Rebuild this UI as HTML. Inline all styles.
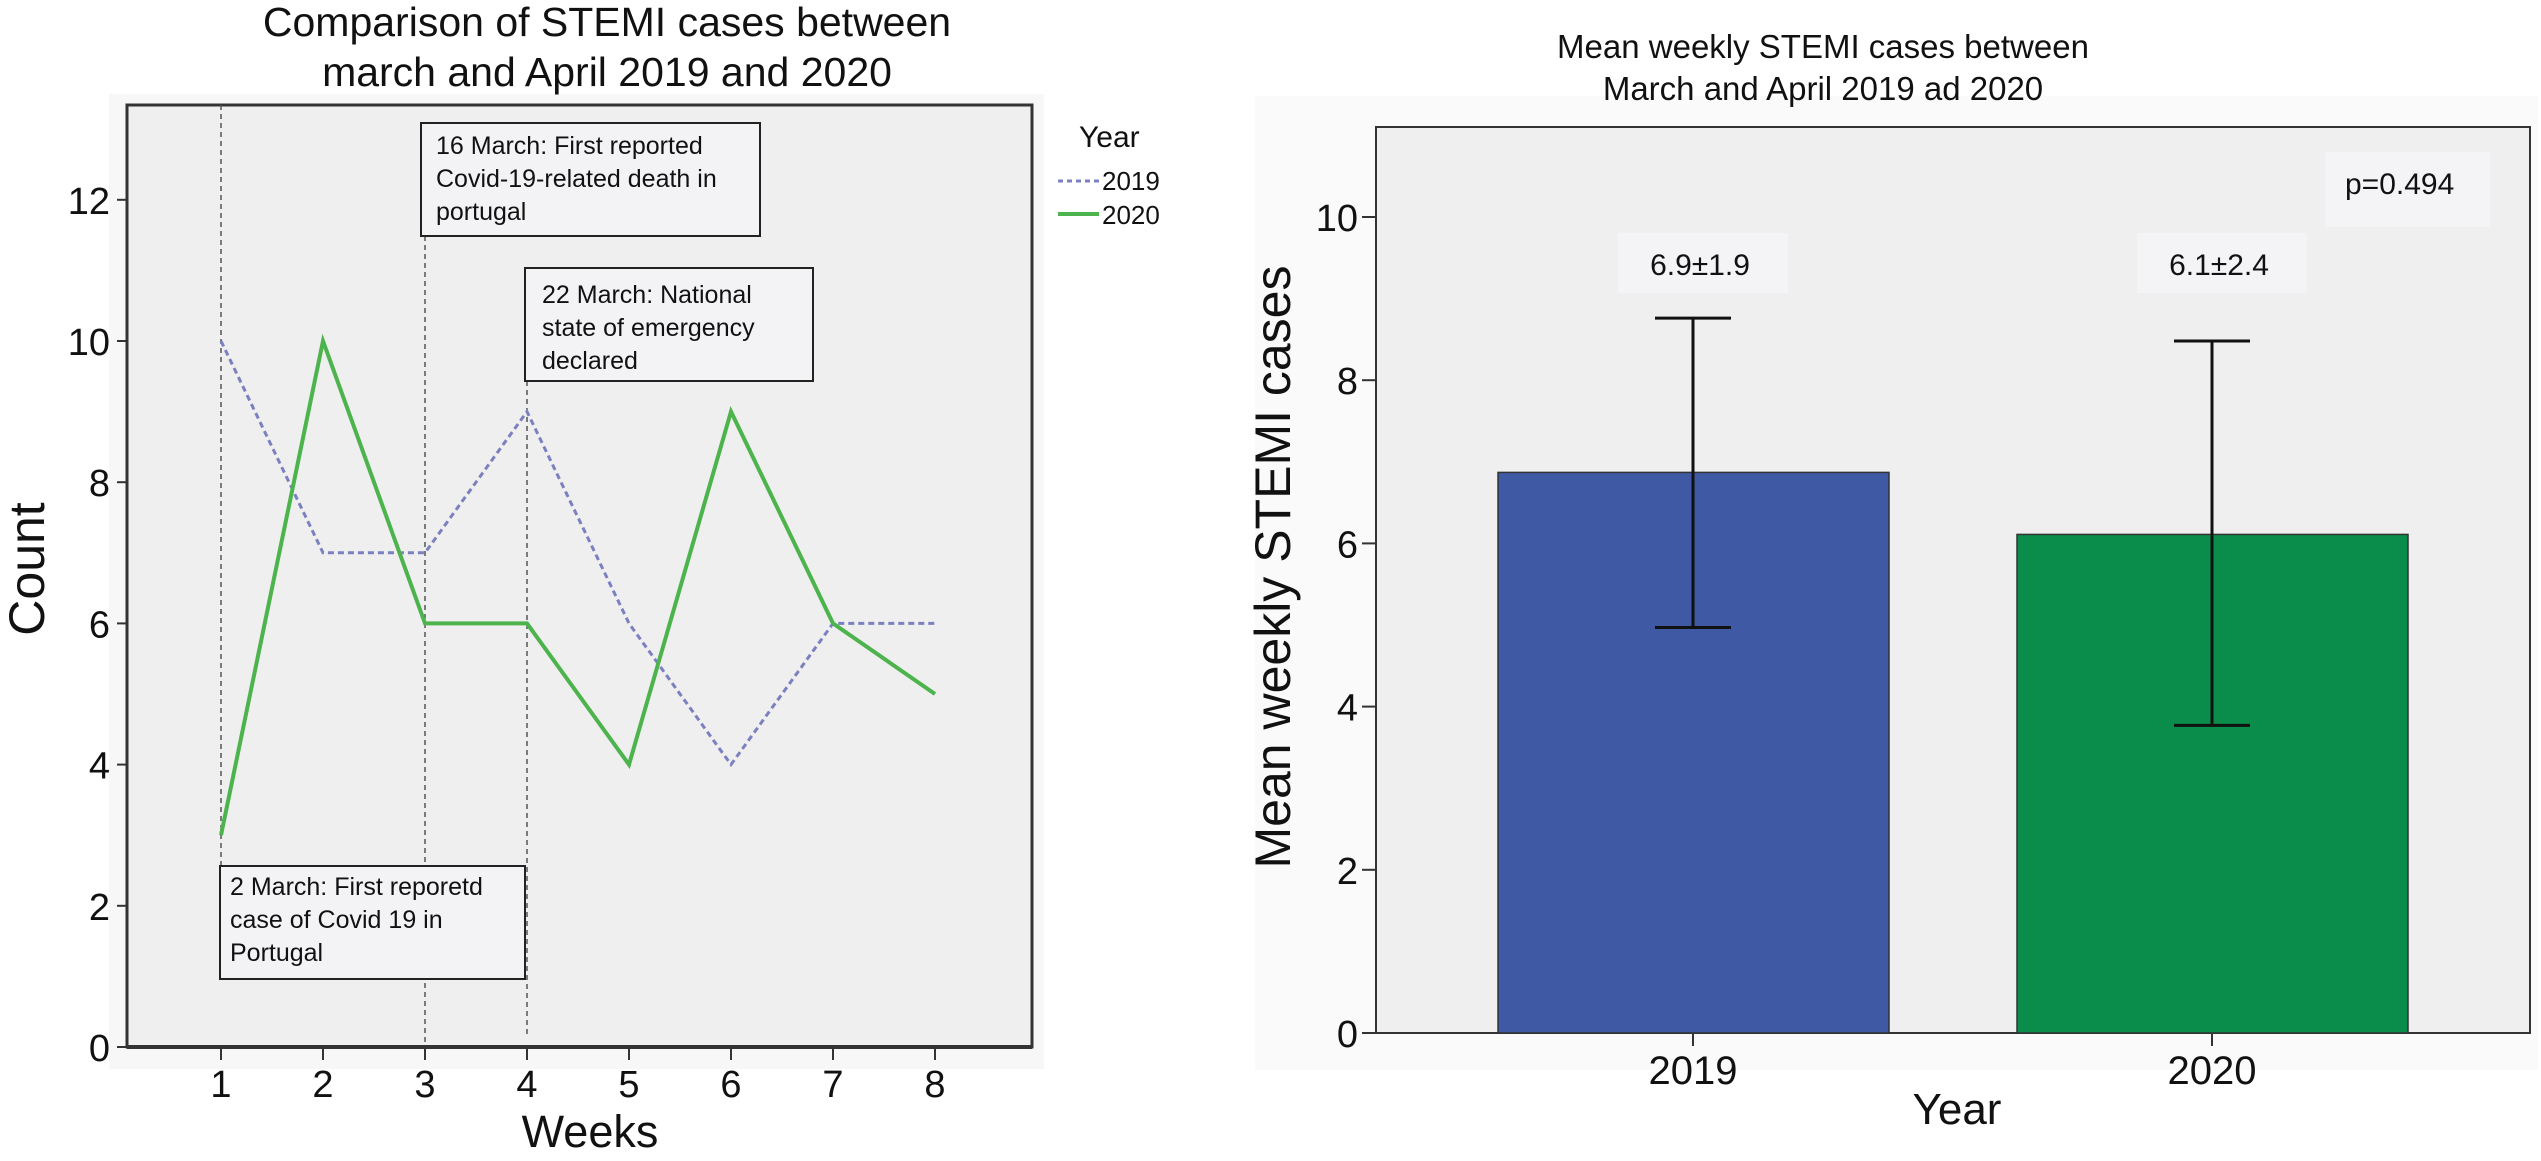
<!DOCTYPE html>
<html><head><meta charset="utf-8"><style>
html,body{margin:0;padding:0;background:#fff;}
svg{display:block;font-family:"Liberation Sans",Arial,sans-serif;}
</style></head><body>
<svg id="chart" width="2541" height="1161" viewBox="0 0 2541 1161" xmlns="http://www.w3.org/2000/svg">
  <g id="left">
    <rect x="109" y="94" width="935" height="975" fill="#f7f7f7"/>
    <rect x="127" y="105" width="905" height="942" fill="#efefef" stroke="#333" stroke-width="3"/>
    <text x="607" y="36" font-size="41" text-anchor="middle" fill="#111">Comparison of STEMI cases between</text>
    <text x="607" y="86" font-size="41" text-anchor="middle" fill="#111">march and April 2019 and 2020</text>
    <text transform="translate(44,569) rotate(-90)" font-size="50" text-anchor="middle" fill="#111">Count</text>
    <text x="590" y="1147" font-size="45" text-anchor="middle" fill="#111">Weeks</text>
    <g id="lgrid"></g>
    <g id="lannot"></g>
    <g id="lseries"></g>
    <g id="laxes"></g>
    <g>
      <text x="1079" y="147" font-size="30" fill="#111">Year</text>
      <line x1="1058" y1="181" x2="1099" y2="181" stroke="#7b80c0" stroke-width="3" stroke-dasharray="5,4"/>
      <text x="1102" y="190" font-size="26" fill="#111">2019</text>
      <line x1="1058" y1="214" x2="1099" y2="214" stroke="#4db44d" stroke-width="4"/>
      <text x="1102" y="224" font-size="26" fill="#111">2020</text>
    </g>
  </g>
  <g id="right">
    <rect x="1255" y="96" width="1283" height="974" fill="#fafafa"/>
    <rect x="1376" y="127" width="1154" height="906" fill="#efefef" stroke="#333" stroke-width="2"/>
    <text x="1823" y="58" font-size="33" text-anchor="middle" fill="#111">Mean weekly STEMI cases between</text>
    <text x="1823" y="100" font-size="33" text-anchor="middle" fill="#111">March and April 2019 ad 2020</text>
    <text transform="translate(1290,567) rotate(-90)" font-size="50" text-anchor="middle" fill="#111">Mean weekly STEMI cases</text>
    <text x="1957" y="1124" font-size="44" text-anchor="middle" fill="#111">Year</text>
    <rect x="2325" y="152" width="165" height="75" fill="#f4f4f6"/>
    <text x="2345" y="194" font-size="30" fill="#111">p=0.494</text>
    <g id="rbars"></g>
    <g id="raxes"></g>
  </g>
</svg>
<script>
// ---- Left line chart data ----
const weeks = [1, 2, 3, 4, 5, 6, 7, 8];
const series2019 = [10, 7, 7, 9, 6, 4, 6, 6];
const series2020 = [3, 10, 6, 6, 4, 9, 6, 5];
const leftYTicks = [0, 2, 4, 6, 8, 10, 12];
const annotationWeeks = [1, 3, 4];
const annotationText1 = ["16 March: First reported", "Covid-19-related death in", "portugal"];
const annotationText2 = ["22 March: National", "state of emergency", "declared"];
const annotationText3 = ["2 March: First reporetd", "case of Covid 19 in", "Portugal"];

// ---- Right bar chart data ----
const barCategories = ["2019", "2020"];
const barMeans = [6.87, 6.11];
const barErrHigh = [8.76, 8.48];
const barErrLow = [4.97, 3.77];
const barLabels = ["6.9\u00B11.9", "6.1\u00B12.4"];
const rightYTicks = [0, 2, 4, 6, 8, 10];

const NS = "http://www.w3.org/2000/svg";
function mk(tag, attrs, parent) {
  const e = document.createElementNS(NS, tag);
  for (const k in attrs) e.setAttribute(k, attrs[k]);
  parent.appendChild(e);
  return e;
}
// left scales
const lx = w => 221 + (w - 1) * 102;
const ly = v => 1047 - v * 70.6;
// right scales
const rx = i => [1693, 2212][i];
const ry = v => 1033 - v * 81.6;

// left axes
const laxes = document.getElementById('laxes');
let ax = mk('line', {x1: 127, y1: 1047, x2: 1032, y2: 1047, stroke: '#333', 'stroke-width': 4}, laxes);


leftYTicks.forEach(v => {
  const t = mk('line', {x1: 117, y1: ly(v), x2: 127, y2: ly(v), stroke: '#333', 'stroke-width': 2}, laxes);
  
  
  const l = mk('text', {x: 110, y: ly(v) + 14, 'font-size': 38, 'text-anchor': 'end', fill: '#111'}, laxes);
  
  
  l.textContent = v;
});
weeks.forEach(w => {
  const t = mk('line', {x1: lx(w), y1: 1047, x2: lx(w), y2: 1060, stroke: '#333', 'stroke-width': 2}, laxes);
  
  
  const l = mk('text', {x: lx(w), y: 1097, 'font-size': 38, 'text-anchor': 'middle', fill: '#111'}, laxes);
  
  
  l.textContent = w;
});

// reference lines
const lgrid = document.getElementById('lgrid');
const refSpans = [[105, 866], [236, 1047], [381, 1035]];
annotationWeeks.forEach((w, i) => {
  const r = mk('line', {x1: lx(w), y1: refSpans[i][0], x2: lx(w), y2: refSpans[i][1], stroke: '#555', 'stroke-width': 1.5, 'stroke-dasharray': '5,4'}, lgrid);
  
  
});

// series
const lseries = document.getElementById('lseries');
const p19 = mk('polyline', {points: weeks.map((w, i) => lx(w) + ',' + ly(series2019[i])).join(' '), fill: 'none', stroke: '#7b80c0', 'stroke-width': 3, 'stroke-dasharray': '6,4'}, lseries);


const p20 = mk('polyline', {points: weeks.map((w, i) => lx(w) + ',' + ly(series2020[i])).join(' '), fill: 'none', stroke: '#4db44d', 'stroke-width': 4, 'stroke-linejoin': 'miter'}, lseries);



// annotation boxes
const lannot = document.getElementById('lannot');
function box(name, x, y, w, h, lines, tx, ty) {
  const g = mk('g', {}, lannot);
  
  
  mk('rect', {x: x, y: y, width: w, height: h, fill: '#f3f3f5', stroke: '#222', 'stroke-width': 2}, g);
  lines.forEach((s, i) => {
    const t = mk('text', {x: tx, y: ty + i * 33, 'font-size': 25, fill: '#111'}, g);
    t.textContent = s;
  });
}
box('annotation-16-march', 421, 123, 339, 113, annotationText1, 436, 154);
box('annotation-22-march', 525, 268, 288, 113, annotationText2, 542, 303);
box('annotation-2-march', 220, 866, 305, 113, annotationText3, 230, 895);

// right axes
const raxes = document.getElementById('raxes');
rightYTicks.forEach(v => {
  const t = mk('line', {x1: 1362, y1: ry(v), x2: 1376, y2: ry(v), stroke: '#333', 'stroke-width': 2}, raxes);
  
  
  const l = mk('text', {x: 1358, y: ry(v) + 14, 'font-size': 38, 'text-anchor': 'end', fill: '#111'}, raxes);
  
  
  l.textContent = v;
});
barCategories.forEach((c, i) => {
  const t = mk('line', {x1: rx(i), y1: 1033, x2: rx(i), y2: 1046, stroke: '#333', 'stroke-width': 2}, raxes);
  
  
  const l = mk('text', {x: rx(i), y: 1084, 'font-size': 40, 'text-anchor': 'middle', fill: '#111'}, raxes);
  
  
  l.textContent = c;
});

// bars
const rbars = document.getElementById('rbars');
const barColors = ['#3f59a5', '#0a8c4a'];
const barW = 391;
barCategories.forEach((c, i) => {
  const b = mk('rect', {x: rx(i) - 195, y: ry(barMeans[i]), width: barW, height: ry(0) - ry(barMeans[i]), fill: barColors[i], stroke: '#333', 'stroke-width': 1.5}, rbars);
  
  
  const e = mk('path', {d: 'M' + (rx(i) - 38) + ' ' + ry(barErrHigh[i]) + 'H' + (rx(i) + 38) + 'M' + rx(i) + ' ' + ry(barErrHigh[i]) + 'V' + ry(barErrLow[i]) + 'M' + (rx(i) - 38) + ' ' + ry(barErrLow[i]) + 'H' + (rx(i) + 38), stroke: '#111', 'stroke-width': 3, fill: 'none'}, rbars);
  
  
  const bg = mk('rect', {x: rx(i) - 75, y: 233, width: 170, height: 60, fill: '#f4f4f6'}, rbars);
  
  
  const l = mk('text', {x: rx(i) + 7, y: 275, 'font-size': 30, 'text-anchor': 'middle', fill: '#111'}, rbars);
  
  
  l.textContent = barLabels[i];
});
</script>
</body></html>
